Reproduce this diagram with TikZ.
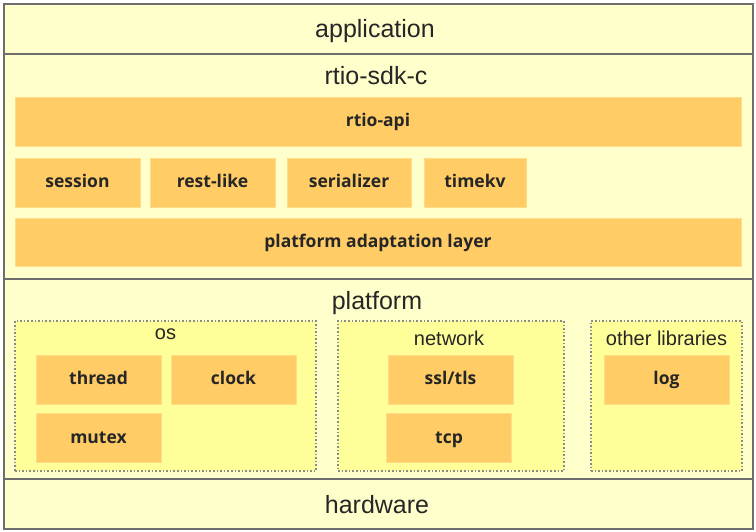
\documentclass[tikz,border=0pt]{standalone}
\usepackage{fontspec}
\setmainfont{Liberation Sans}
\newfontfamily\partfont{Open Sans}
\usetikzlibrary{positioning}

\definecolor{layerfill}{HTML}{FFFFCC}
\definecolor{layerline}{HTML}{6E6E6E}
\definecolor{partfill}{HTML}{FFCC66}
\definecolor{partline}{HTML}{FFDD88}
\definecolor{groupfill}{HTML}{FFFF99}
\definecolor{groupline}{HTML}{8A8A8A}

\begin{document}
\begin{tikzpicture}[x=1pt, y=-1pt,
    layer/.style={draw=layerline, line width=2pt, fill=layerfill, minimum width=749pt, inner sep=0pt},
    title/.style={inner sep=0pt, text height=17pt, text depth=5pt, font=\fontsize{25}{29}\selectfont, text=black!85},
    label/.style={inner sep=0pt, text height=14pt, text depth=4pt, font=\fontsize{20}{24}\selectfont, text=black!85},
    part/.style={fill=partfill, draw=partline, line width=0.8pt, inner sep=0pt, minimum width=125pt, minimum height=49pt,
      text height=13pt, text depth=3pt, font=\partfont\bfseries\fontsize{17.5}{21}\selectfont, text=black!85},
    group/.style={fill=groupfill, draw=groupline, dotted, line width=1.6pt, inner sep=0pt, minimum height=150pt}]
    \useasboundingbox (0, 0) rectangle (756, 531);

    % Layers
    \node [layer, minimum height=50pt] (app) at (378.5, 29) {};
    \node [layer, minimum height=225pt] (sdk) at (378.5, 166.5) {};
    \node [layer, minimum height=200pt] (plat) at (378.5, 379) {};
    \node [layer, minimum height=50pt] (hw) at (378.5, 504) {};
    \node [title] (apptitle) at (375, 31) {application};
    \node [title] (sdktitle) at (376, 78) {rtio-sdk-c};
    \node [title] (plattitle) at (377, 303) {platform};
    \node [title] (hwtitle) at (377, 507) {hardware};

    % rtio-sdk-c
    \node [part, minimum width=726pt] (api) at (378, 121.5) {rtio-api};
    \node [part] (session) at (77.5, 182.5) {session};
    \node [part] (restlike) at (212.5, 182.5) {rest-like};
    \node [part, minimum width=124pt] (serializer) at (349, 182.5) {serializer};
    \node [part, minimum width=102pt] (timekv) at (475, 182.5) {timekv};
    \node [part, minimum width=726pt, minimum height=48pt] (pal) at (378, 242) {platform adaptation layer};

    % platform
    \node [group, minimum width=301pt] (os) at (165.5, 396) {};
    \node [group, minimum width=226pt] (network) at (451, 396) {};
    \node [group, minimum width=151pt] (otherlibs) at (666.5, 396) {};
    \node [label] (ostitle) at (165.5, 334) {os};
    \node [label] (nettitle) at (449, 340) {network};
    \node [label] (othertitle) at (666.5, 340) {other libraries};

    \node [part] (thread) at (98.5, 379.5) {thread};
    \node [part] (clock) at (233.5, 379.5) {clock};
    \node [part] (mutex) at (98.5, 438) {mutex};
    \node [part] (ssltls) at (450.5, 379.5) {ssl/tls};
    \node [part] (tcp) at (449, 438) {tcp};
    \node [part] (log) at (666.5, 379.5) {log};
\end{tikzpicture}
\end{document}
